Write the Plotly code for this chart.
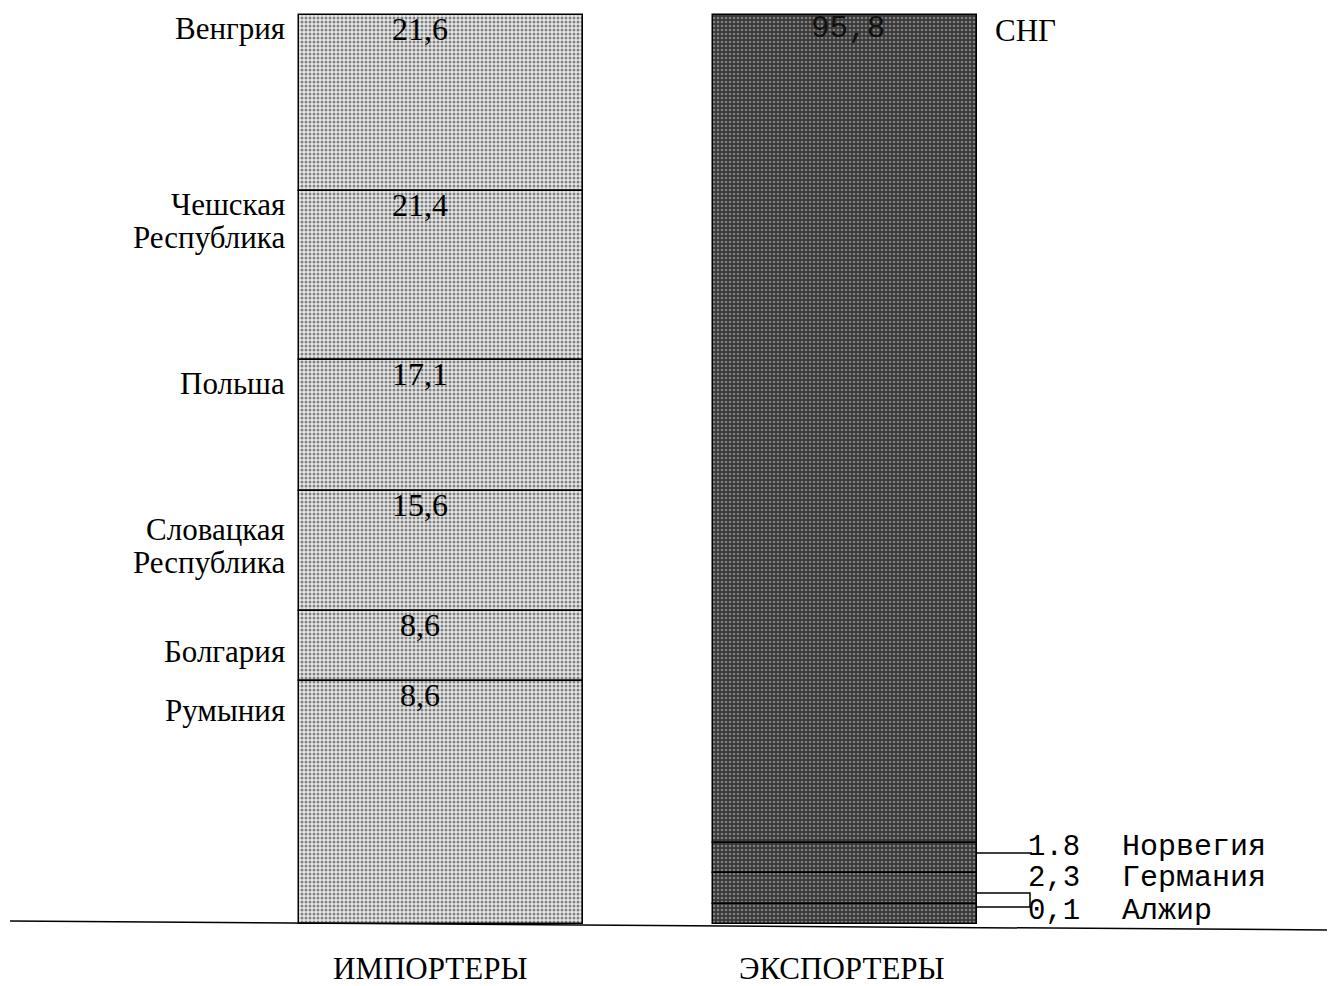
import numpy as np
import plotly.graph_objects as go

# ---------------- data ----------------
imp_names = ["Венгрия", "Чешская<br>Республика", "Польша",
             "Словацкая<br>Республика", "Болгария", "Румыния"]
imp_labels = ["21,6", "21,4", "17,1", "15,6", "8,6", "8,6"]
imp_heights = [19.4, 18.5, 14.5, 13.2, 7.7, 26.7]   # drawn segment shares, top to bottom

exp_names = ["СНГ", "Норвегия", "Германия", "Алжир"]
exp_labels = ["95,8", "1.8", "2,3", "0,1"]
exp_heights = [91.1, 3.3, 3.4, 2.2]                  # drawn segment shares, top to bottom

group_titles = ["ИМПОРТЕРЫ", "ЭКСПОРТЕРЫ"]

# ---------------- layout helpers ----------------
W, H = 1338, 986
Y0_PX, Y100_PX = 924, 15
UPP = 100.0 / (Y0_PX - Y100_PX)          # data units per pixel
YMAX = 100 + Y100_PX * UPP
YMIN = -(H - Y0_PX) * UPP


def v(px):
    """pixel row -> data value (for decorations only)"""
    return (Y0_PX - px) * UPP


def stack(heights):
    h = np.array(heights, dtype=float)
    tops = h.sum() - np.concatenate([[0], np.cumsum(h)[:-1]])
    return tops - h, tops


SERIF = "Liberation Serif, Times New Roman, serif"
MONO = "Liberation Mono, Courier New, monospace"

IMP_X, IMP_W = 441, 284
EXP_X, EXP_W = 845, 264

imp_base, imp_top = stack(imp_heights)
exp_base, exp_top = stack(exp_heights)

fig = go.Figure()
fig.add_trace(go.Bar(
    x=[IMP_X] * len(imp_heights), y=imp_heights, base=imp_base, width=IMP_W,
    marker=dict(color="#bdbdbd", line=dict(color="black", width=1.5),
                pattern=dict(shape=".", fgcolor="#1a1a1a", bgcolor="#e8e8e8",
                             size=4, solidity=0.45)),
    hoverinfo="skip", showlegend=False))
fig.add_trace(go.Bar(
    x=[EXP_X] * len(exp_heights), y=exp_heights, base=exp_base, width=EXP_W,
    marker=dict(color="#555555", line=dict(color="black", width=1.5),
                pattern=dict(shape=".", fgcolor="#c8c8c8", bgcolor="#383838",
                             size=4, solidity=0.35)),
    hoverinfo="skip", showlegend=False))

ann = []
# importer country names (left, line by line) and values (inside)
name_shift = [-13, -13, -24, -38, -40, -29]
LINE_GAP = 33
for name, lab, top, sh in zip(imp_names, imp_labels, imp_top, name_shift):
    for k, line in enumerate(name.split("<br>")):
        ann.append(dict(x=287, y=top, xanchor="right", yanchor="middle",
                        yshift=sh - k * LINE_GAP,
                        text=line, align="right", showarrow=False,
                        font=dict(family=SERIF, size=31, color="black")))
    ann.append(dict(x=420, y=top, xanchor="center", yanchor="middle", yshift=-14,
                    text=lab, showarrow=False,
                    font=dict(family=SERIF, size=32, color="black")))

# exporters
ann.append(dict(x=848, y=exp_top[0], xanchor="center", yanchor="middle", yshift=-13,
                text=exp_labels[0], showarrow=False,
                font=dict(family=MONO, size=31, color="#111111")))
ann.append(dict(x=993, y=exp_top[0], xanchor="left", yanchor="middle", yshift=-15,
                text=exp_names[0], showarrow=False,
                font=dict(family=SERIF, size=31, color="black")))
exp_label_shift = [-4, -5, -7]
for name, lab, top, sh in zip(exp_names[1:], exp_labels[1:], exp_top[1:], exp_label_shift):
    ann.append(dict(x=1026, y=top, xanchor="left", yanchor="middle", yshift=sh,
                    text=lab, showarrow=False,
                    font=dict(family=MONO, size=29, color="black")))
    ann.append(dict(x=1120, y=top, xanchor="left", yanchor="middle", yshift=sh,
                    text=name, showarrow=False,
                    font=dict(family=MONO, size=30, color="black")))

# group titles
for gx, t in zip([430, 842], group_titles):
    ann.append(dict(x=gx, y=v(968), xanchor="center", yanchor="middle",
                    text=t, showarrow=False,
                    font=dict(family=SERIF, size=31, color="black")))

shapes = [
    # baseline
    dict(type="line", x0=10, x1=1327, y0=v(921), y1=v(930),
         line=dict(color="black", width=1.5)),
    # leader for Норвегия
    dict(type="line", x0=EXP_X + EXP_W / 2, x1=1032, y0=v(853), y1=v(853),
         line=dict(color="black", width=1.5)),
    # bracket for Алжир
    dict(type="path",
         path=f"M {EXP_X + EXP_W / 2},{v(893)} L 1030,{v(893)} L 1030,{v(907)} L {EXP_X + EXP_W / 2},{v(907)}",
         line=dict(color="black", width=1.5)),
]

fig.update_layout(
    width=W, height=H,
    margin=dict(l=0, r=0, t=0, b=0),
    paper_bgcolor="white", plot_bgcolor="white",
    barmode="overlay", bargap=0,
    xaxis=dict(range=[0, W], visible=False, fixedrange=True),
    yaxis=dict(range=[YMIN, YMAX], visible=False, fixedrange=True),
    annotations=ann, shapes=shapes,
)

fig.write_html("out.html", config={"displayModeBar": False},
               post_script="document.body.style.margin='0';document.body.style.overflow='hidden';")
